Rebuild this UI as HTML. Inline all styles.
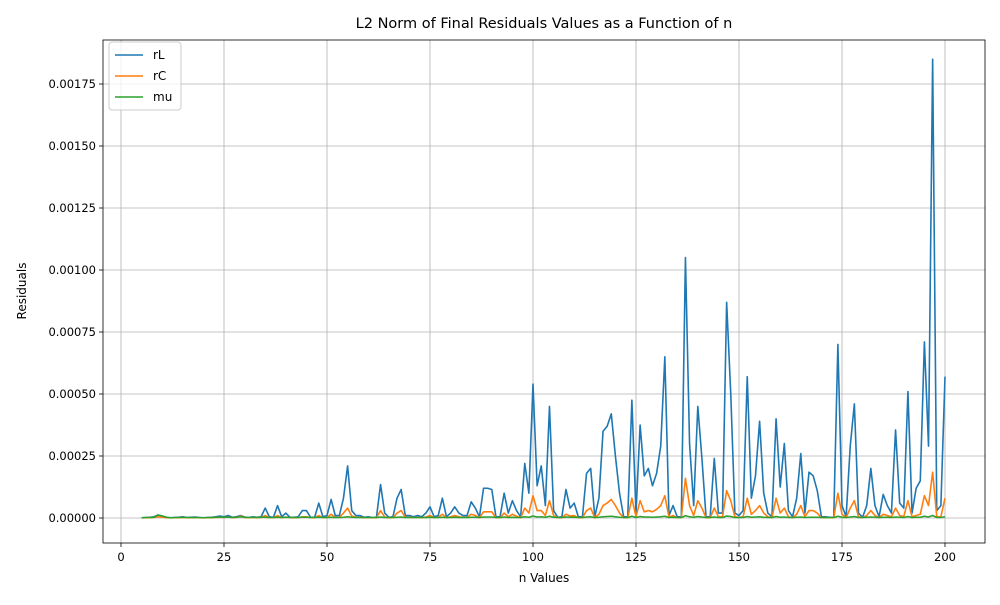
<!DOCTYPE html>
<html><head><meta charset="utf-8"><style>
body{margin:0;background:#fff;font-family:"Liberation Sans","DejaVu Sans",sans-serif}
svg text{font-family:"DejaVu Sans","Liberation Sans",sans-serif}
</style></head><body>
<svg id="chart" width="1000" height="600" xmlns="http://www.w3.org/2000/svg">
<rect width="1000" height="600" fill="#fff"/>
<g id="grid"></g><g id="series"></g><g id="axes"></g>
<text x="544" y="28" font-size="14.5" text-anchor="middle">L2 Norm of Final Residuals Values as a Function of n</text>
<text x="544" y="582" font-size="12" text-anchor="middle">n Values</text>
<text x="26" y="291" font-size="12" text-anchor="middle" transform="rotate(-90 26 291)">Residuals</text>
<g>
<rect x="109" y="42" width="72" height="68" rx="3" fill="#fff" fill-opacity="0.8" stroke="#ccc"/>
<line x1="115" y1="55" x2="143" y2="55" stroke="#1f77b4" stroke-width="1.5"/><text x="153" y="59" font-size="12">rL</text>
<line x1="115" y1="76" x2="143" y2="76" stroke="#ff7f0e" stroke-width="1.5"/><text x="153" y="80" font-size="12">rC</text>
<line x1="115" y1="97" x2="143" y2="97" stroke="#2ca02c" stroke-width="1.5"/><text x="153" y="101" font-size="12">mu</text>
</g>
</svg>
<script>
const nStart = 5;
const xTicks = [0,25,50,75,100,125,150,175,200];
const yTicks = [0,0.00025,0.0005,0.00075,0.001,0.00125,0.0015,0.00175];
const yTickLabels = ["0.00000","0.00025","0.00050","0.00075","0.00100","0.00125","0.00150","0.00175"];
// values in units of 1e-5
const rL = [0.1,0.2,0.3,0.5,1.2,0.8,0.3,0.1,0.2,0.3,0.5,0.2,0.3,0.4,0.2,0.1,0.2,0.3,0.5,0.8,0.5,1,0.3,0.5,1,0.4,0.2,0.5,0.3,0.5,
4,0.5,0.3,5,0.5,2,0.3,0.3,0.5,3,3,0.3,0.3,6,0.5,1,7.5,1,1,8,21,3,1,1,0.3,0.5,0.2,0.3,13.5,2,0.3,0.5,8,11.5,1,1,0.5,1,0.5,2,4.5,0.5,1,8,0.5,2,4.5,2,1,1,6.5,4,0.5,12,12,11.5,0.5,0.5,10,2,7,3,0.5,22,10,54,13,21,5,45,3,0.3,0.5,11.5,4,6,0.5,0.5,18,20,0.5,8,35,37,42,25,10,0.5,0.5,47.5,2,37.5,17,20,13,18,29,65,1,5,0.5,0.5,105,30,5,45,24,0.5,0.5,24,2,2,87,50,2,1,3,57,8,17,39,10,2,0.5,40,12.5,30,3,0.5,8,26,2,18.5,17,11,0.5,0.5,0.3,0.3,70,5,0.5,29,46,2,0.3,5,20,5,0.5,9.5,5,2,35.5,6,4,51,2,12,15,71,29,185,3,5,57];
const rC = [0.05,0.1,0.1,0.2,0.5,0.3,0.1,0.05,0.1,0.1,0.2,0.1,0.1,0.1,0.1,0.05,0.1,0.1,0.2,0.3,0.2,0.4,0.1,0.2,0.8,0.2,0.1,0.2,0.1,0.2,
1,0.1,0.1,1,0.1,0.4,0.1,0.1,0.1,0.5,0.5,0.1,0.1,1,0.1,0.2,1.5,0.2,0.3,2,4,0.8,0.3,0.3,0.1,0.1,0.1,0.1,3,0.4,0.1,0.1,2,3,0.3,0.3,0.1,0.3,0.1,0.4,1,0.1,0.3,1.5,0.1,0.5,1,0.5,0.3,0.3,1.5,1,0.1,2.5,2.5,2.5,0.1,0.1,2,0.5,1.5,0.7,0.1,4,2,9,3,3,1,7,1,0.1,0.1,1.5,0.8,1,0.1,0.1,3,4,0.1,1.5,5,6,7.5,5,2,0.1,0.1,8,0.5,7,2.5,3,2.5,3.5,5,9,0.3,1,0.1,0.1,16,5,1,7,4,0.1,0.1,4,0.5,0.5,11,7,0.5,0.3,0.5,8,1.5,3,5,2,0.5,0.1,8,2,4,0.5,0.1,1.5,5,0.5,3,3,2,0.1,0.1,0.1,0.1,10,1.5,0.1,4,7,0.5,0.1,1,3,1,0.1,1.5,1,0.5,4,1,0.6,7,0.5,1,1.5,9,5,18.5,0.5,0.5,8];
const mu = [0.1,0.2,0.2,0.3,1.2,0.8,0.3,0.1,0.2,0.2,0.3,0.2,0.2,0.2,0.2,0.1,0.2,0.2,0.3,0.4,0.3,0.4,0.2,0.3,0.5,0.3,0.2,0.3,0.2,0.3,
0.3,0.2,0.2,0.3,0.2,0.3,0.2,0.2,0.2,0.3,0.3,0.2,0.2,0.3,0.2,0.2,0.3,0.2,0.2,0.3,0.5,0.3,0.2,0.2,0.2,0.2,0.2,0.2,0.4,0.2,0.2,0.2,0.3,0.4,0.2,0.2,0.2,0.2,0.2,0.2,0.3,0.2,0.2,0.3,0.2,0.2,0.3,0.2,0.2,0.2,0.3,0.3,0.2,0.4,0.4,0.4,0.2,0.2,0.4,0.2,0.3,0.2,0.2,0.5,0.3,0.8,0.4,0.5,0.3,0.7,0.3,0.2,0.2,0.4,0.3,0.3,0.2,0.2,0.4,0.5,0.2,0.3,0.5,0.6,0.7,0.5,0.3,0.2,0.2,0.7,0.2,0.6,0.4,0.4,0.3,0.4,0.5,0.7,0.2,0.3,0.2,0.2,0.9,0.5,0.3,0.6,0.4,0.2,0.2,0.4,0.2,0.2,0.8,0.6,0.2,0.2,0.2,0.6,0.3,0.4,0.5,0.3,0.2,0.2,0.6,0.3,0.4,0.2,0.2,0.3,0.4,0.2,0.3,0.3,0.3,0.2,0.2,0.2,0.2,0.7,0.3,0.2,0.4,0.6,0.2,0.2,0.3,0.4,0.3,0.2,0.3,0.3,0.2,0.4,0.3,0.2,0.6,0.2,0.3,0.3,0.7,0.4,1,0.2,0.2,0.5];
const L=103,R=985,T=40,B=543;
const xs = v => 121 + (v)*(945-121)/200;
const ys = v => 518 - v*(518-84)/0.00175;
const NS="http://www.w3.org/2000/svg";
function mk(tag,attrs,parent){const e=document.createElementNS(NS,tag);for(const k in attrs)e.setAttribute(k,attrs[k]);parent.appendChild(e);return e;}
const grid=document.getElementById('grid'),axes=document.getElementById('axes'),series=document.getElementById('series');
xTicks.forEach(t=>{
  const g=mk('line',{x1:xs(t),x2:xs(t),y1:T,y2:B,stroke:'#b0b0b0','stroke-width':0.8},grid);
  
  
  mk('line',{x1:xs(t),x2:xs(t),y1:B,y2:B+4,stroke:'#000','stroke-width':0.8},axes);
  const tx=mk('text',{x:xs(t),y:B+18,'font-size':11.5,'text-anchor':'middle'},axes);
  tx.textContent=t;
  
  
});
yTicks.forEach((t,i)=>{
  const g=mk('line',{x1:L,x2:R,y1:ys(t),y2:ys(t),stroke:'#b0b0b0','stroke-width':0.8},grid);
  
  
  mk('line',{x1:L-4,x2:L,y1:ys(t),y2:ys(t),stroke:'#000','stroke-width':0.8},axes);
  const tx=mk('text',{x:L-7,y:ys(t)+4,'font-size':11.5,'text-anchor':'end'},axes);
  tx.textContent=yTickLabels[i];
  
  
});
const frame=mk('rect',{x:L,y:T,width:R-L,height:B-T,fill:'none',stroke:'#000','stroke-width':0.8},axes);


function line(arr,color,name){
  const pts=arr.map((v,i)=>xs(nStart+i).toFixed(2)+','+ys(v*1e-5).toFixed(2)).join(' ');
  const p=mk('polyline',{points:pts,fill:'none',stroke:color,'stroke-width':1.6,'stroke-linejoin':'round'},series);
  
  
}
line(rL,'#1f77b4','series-rl');
line(rC,'#ff7f0e','series-rc');
line(mu,'#2ca02c','series-mu');
</script>
</body></html>
